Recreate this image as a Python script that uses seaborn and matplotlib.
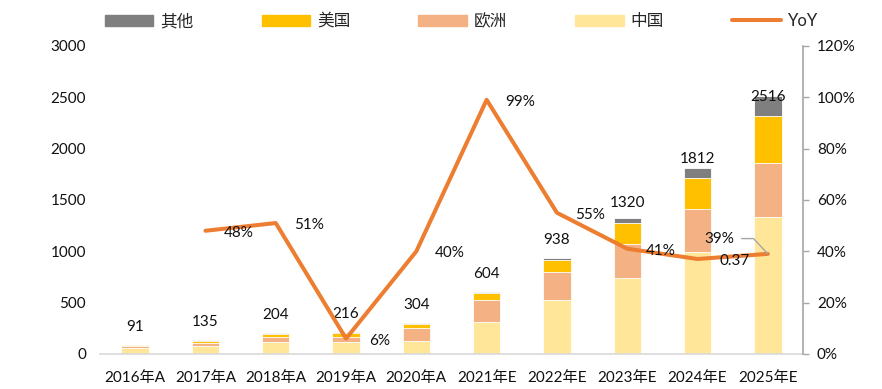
import numpy as np
import pandas as pd
import matplotlib
matplotlib.use('Agg')
import matplotlib.pyplot as plt
import seaborn as sns
from matplotlib.patches import Patch
from matplotlib.lines import Line2D
from matplotlib.ticker import PercentFormatter

# ---- data ----
years = ['2016年A', '2017年A', '2018年A', '2019年A', '2020年A',
         '2021年E', '2022年E', '2023年E', '2024年E', '2025年E']
china = [60, 80, 115, 120, 130, 312, 526, 740, 993, 1334]
europe = [18, 30, 50, 50, 120, 214, 273, 331, 419, 526]
usa = [10, 18, 30, 35, 45, 68, 117, 204, 302, 458]
total = [91, 135, 204, 216, 304, 604, 938, 1320, 1812, 2516]
yoy = [48, 51, 6, 40, 99, 55, 41, 37, 39]
yoy_labels = ['48%', '51%', '6%', '40%', '99%', '55%', '41%', '0.37', '39%']

C_OTHER, C_US, C_EU, C_CN = '#7F7F7F', '#FFC000', '#F4B183', '#FFE699'
C_LINE = '#ED7D31'

sns.set_style('white')
plt.rcParams['font.family'] = ['Lato', 'Noto Sans CJK SC', 'DejaVu Sans']
plt.rcParams['font.size'] = 11

df = pd.DataFrame({'year': years, 'china': china, 'europe': europe,
                   'usa': usa, 'total': total})
df['cn_eu'] = df['china'] + df['europe']
df['cn_eu_us'] = df['cn_eu'] + df['usa']

fig = plt.figure(figsize=(8.82, 3.89), dpi=100)
ax = fig.add_axes([0.1134, 0.09, 0.797, 0.792])

# stacked bars by overlaying cumulative heights
for col, c in [('total', C_OTHER), ('cn_eu_us', C_US), ('cn_eu', C_EU), ('china', C_CN)]:
    sns.barplot(data=df, x='year', y=col, color=c, width=0.39, ax=ax,
                saturation=1, edgecolor='white', linewidth=0.6)

label_dy = [8, 8, 8, 8, 8, 8, 8, 6, 1.5, -6]
for i, (t, dy) in enumerate(zip(total, label_dy)):
    ax.annotate(str(t), (i, t), xytext=(0, dy), textcoords='offset points',
                ha='center', va='bottom', fontsize=11, color='#111111')

ax.set_ylim(0, 3000)
ax.set_yticks(np.arange(0, 3001, 500))
ax.set_xlim(-0.5, 9.5)
ax.set_xlabel('')
ax.set_ylabel('')
ax.tick_params(axis='both', length=0, labelsize=11, colors='#111111')
ax.tick_params(axis='x', pad=12)
ax.tick_params(axis='y', pad=10)
for s in ['top', 'left', 'right']:
    ax.spines[s].set_visible(False)
ax.spines['bottom'].set_color('#D9D9D9')
ax.spines['bottom'].set_linewidth(1.2)

ax2 = ax.twinx()
xpos = np.arange(1, len(years))
sns.lineplot(x=xpos, y=yoy, ax=ax2, color=C_LINE, linewidth=2.9)
ax2.set_ylim(0, 120)
ax2.set_yticks(np.arange(0, 121, 20))
ax2.yaxis.set_major_formatter(PercentFormatter(decimals=0))
ax2.tick_params(axis='y', length=4, width=1, color='#A6A6A6', labelsize=11,
                labelcolor='#111111', pad=6)
for s in ['top', 'left', 'bottom']:
    ax2.spines[s].set_visible(False)
ax2.spines['right'].set_color('#A6A6A6')
ax2.spines['right'].set_linewidth(1.2)
ax2.set_xlim(-0.5, 9.5)

for x, v, lab in zip(xpos[:-1], yoy[:-1], yoy_labels[:-1]):
    dx = 27 if lab == '0.37' else 24
    ax2.annotate(lab, (x, v), xytext=(dx, -1.5), textcoords='offset points',
                 ha='center', va='center', fontsize=11, color='#111111')
ax2.annotate(yoy_labels[-1], (xpos[-1], yoy[-1]), xytext=(-35, 11),
             textcoords='offset points', ha='center', va='center',
             fontsize=11, color='#111111',
             arrowprops=dict(arrowstyle='-', color='#A6A6A6', lw=1,
                             shrinkA=3, shrinkB=0,
                             connectionstyle='angle,angleA=0,angleB=133,rad=0'))

handles = [Patch(color=C_OTHER), Patch(color=C_US), Patch(color=C_EU),
           Patch(color=C_CN), Line2D([0], [0], color=C_LINE, lw=2.9)]
fig.legend(handles, ['其他', '美国', '欧洲', '中国', 'YoY'], loc='center',
           bbox_to_anchor=(0.523, 0.946), ncol=5, frameon=False, fontsize=12,
           handlelength=2.9, handleheight=0.66, columnspacing=4.1,
           handletextpad=0.42)

fig.savefig('out.png', dpi=100)
